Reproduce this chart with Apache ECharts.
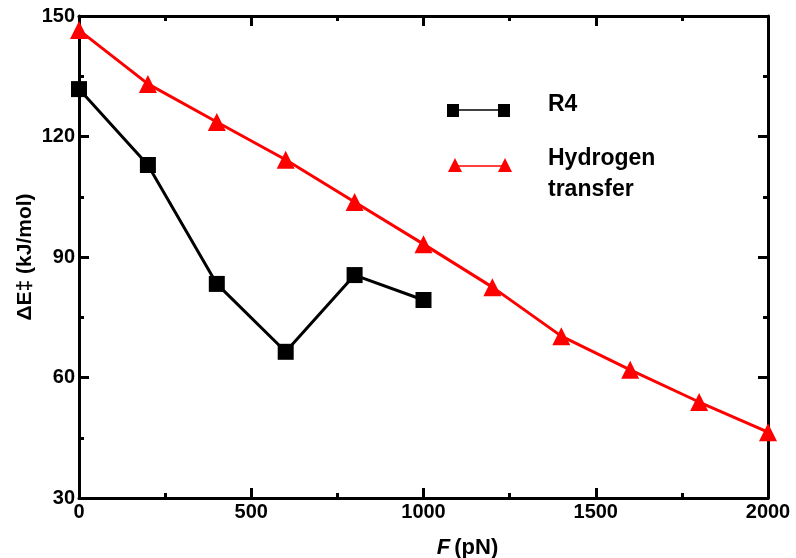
<!DOCTYPE html>
<html><head><meta charset="utf-8">
<script src="https://cdn.jsdelivr.net/npm/echarts@6/dist/echarts.min.js"></script>
<style>html,body{margin:0;padding:0;background:#fff}#c{width:796px;height:558px}</style>
</head><body><div id="c"></div>
<script>
const forceR4 = [0, 200, 400, 600, 800, 1000];
const energyR4 = [131.8, 112.9, 83.3, 66.4, 85.5, 79.3];
const forceH = [0, 200, 400, 600, 800, 1000, 1200, 1400, 1600, 1800, 2000];
const energyH = [146.5, 133.1, 123.6, 114.2, 103.7, 93.2, 82.5, 70.3, 61.9, 53.9, 46.4];
const seriesNames = ['R4', 'Hydrogen transfer'];

const chart = echarts.init(document.getElementById('c'));
const font = 'Liberation Sans, Arial, sans-serif';
const axisCommon = {
  axisLine: {show: true, onZero: false, lineStyle: {color: '#000', width: 3}},
  axisTick: {show: true, inside: true, length: 10, lineStyle: {color: '#000', width: 3}},
  minorTick: {show: true, splitNumber: 2, length: 5, lineStyle: {color: '#000', width: 3}},
  splitLine: {show: false}
};
chart.setOption({
  animation: false,
  backgroundColor: '#fff',
  grid: {left: 79, right: 28, top: 16, bottom: 60, containLabel: false, outerBoundsMode: 'none'},
  xAxis: [
    Object.assign({type: 'value', min: 0, max: 2000, interval: 500, position: 'bottom',
      axisLabel: {color: '#000', fontFamily: font, fontWeight: 'bold', fontSize: 20, margin: 4,
        formatter: v => String(v)},
      name: '{i|F}{n|(pN)}', nameLocation: 'middle', nameGap: 39,
      nameTextStyle: {padding: [0, 0, 0, 88], rich: {
        i: {fontFamily: font, fontWeight: 'bold', fontStyle: 'italic', fontSize: 22, color: '#000', padding: [0, 4, 0, 0]},
        n: {fontFamily: font, fontWeight: 'bold', fontSize: 22, color: '#000'}
      }}}, axisCommon),
    Object.assign({type: 'value', min: 0, max: 2000, interval: 500, position: 'top',
      axisLabel: {show: false}}, axisCommon)
  ],
  yAxis: [
    Object.assign({type: 'value', min: 30, max: 150, interval: 30, position: 'left',
      axisLabel: {color: '#000', fontFamily: font, fontWeight: 'bold', fontSize: 20, margin: 4},
      name: 'ΔE‡ (kJ/mol)', nameLocation: 'middle', nameGap: 43, nameRotate: 90, nameMoveOverlap: false,
      nameTextStyle: {fontFamily: font, fontWeight: 'bold', fontSize: 21, color: '#000'}}, axisCommon),
    Object.assign({type: 'value', min: 30, max: 150, interval: 30, position: 'right',
      axisLabel: {show: false}}, axisCommon)
  ],
  series: [
    {name: seriesNames[0], type: 'line', data: forceR4.map((f, i) => [f, energyR4[i]]),
      symbol: 'rect', symbolSize: 16, itemStyle: {color: '#000'},
      lineStyle: {color: '#000', width: 3}, z: 3},
    {name: seriesNames[1], type: 'line', data: forceH.map((f, i) => [f, energyH[i]]),
      symbol: 'triangle', symbolSize: 18, itemStyle: {color: '#ff0000'},
      lineStyle: {color: '#ff0000', width: 3}, z: 2, clip: false}
  ],
  graphic: [
    {type: 'line', shape: {x1: 452, y1: 110, x2: 504, y2: 110}, style: {stroke: '#000', lineWidth: 1.5}},
    {type: 'rect', shape: {x: 447, y: 104, width: 12, height: 13}, style: {fill: '#000'}},
    {type: 'rect', shape: {x: 498, y: 104, width: 12, height: 13}, style: {fill: '#000'}},
    {type: 'text', style: {x: 548, y: 105, text: 'R4', fill: '#000', font: 'bold 23px ' + font, textVerticalAlign: 'middle'}},
    {type: 'line', shape: {x1: 456, y1: 166, x2: 503, y2: 166}, style: {stroke: '#ff0000', lineWidth: 1.5}},
    {type: 'polygon', shape: {points: [[455, 158], [448, 172], [462, 172]]}, style: {fill: '#ff0000'}},
    {type: 'polygon', shape: {points: [[505, 158], [498, 172], [512, 172]]}, style: {fill: '#ff0000'}},
    {type: 'text', style: {x: 548, y: 159, text: 'Hydrogen', fill: '#000', font: 'bold 23px ' + font, textVerticalAlign: 'middle'}},
    {type: 'text', style: {x: 548, y: 190, text: 'transfer', fill: '#000', font: 'bold 23px ' + font, textVerticalAlign: 'middle'}}
  ]
});
</script></body></html>
